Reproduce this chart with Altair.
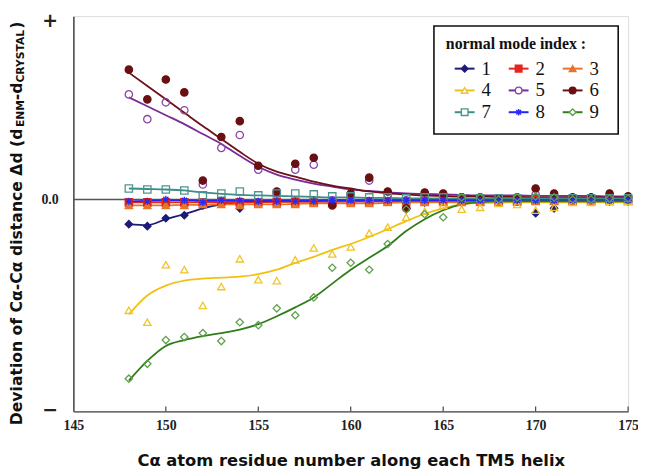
import altair as alt
import pandas as pd

# ---------------- data ----------------
residues = list(range(148, 176))
modes = ["1", "2", "3", "4", "5", "6", "7", "8", "9"]

points_1 = [-0.25, -0.27, -0.19, -0.16, -0.06, -0.04, -0.09, -0.03, -0.02, -0.02, -0.02, -0.04, -0.02, -0.02,
            -0.02, -0.09, -0.03, -0.02, -0.02, -0.02, -0.02, -0.02, -0.14, -0.09, -0.02, -0.02, -0.02, -0.02]
points_2 = [-0.03, -0.03, -0.03, -0.03, -0.03, -0.02, -0.03, -0.03, -0.03, -0.03, -0.03, -0.03, -0.02, -0.02,
            -0.02, -0.02, -0.02, -0.02, -0.02, -0.02, -0.02, -0.02, -0.01, -0.01, -0.01, -0.01, -0.01, -0.01]
points_3 = [-0.06, -0.06, -0.06, -0.06, -0.05, -0.05, -0.06, -0.05, -0.05, -0.05, -0.04, -0.04, -0.04, -0.04,
            -0.03, -0.03, -0.03, -0.03, -0.03, -0.03, -0.03, -0.02, -0.02, -0.02, -0.02, -0.02, -0.02, -0.02]
points_4 = [-1.12, -1.24, -0.66, -0.71, -1.07, -0.88, -0.60, -0.81, -0.82, -0.61, -0.49, -0.55, -0.48, -0.34,
            -0.28, -0.18, -0.12, -0.06, -0.10, -0.08, -0.04, -0.05, -0.11, -0.08, -0.03, -0.03, -0.02, -0.02]
points_5 = [1.06, 0.81, 0.98, 0.90, 0.15, 0.52, 0.65, 0.30, 0.06, 0.30, 0.35, -0.01, 0.04, 0.19,
            0.05, -0.01, 0.05, 0.04, 0.02, 0.01, 0.01, 0.01, 0.05, 0.03, 0.01, 0.01, 0.03, 0.02]
points_6 = [1.31, 1.01, 1.21, 1.08, 0.19, 0.63, 0.79, 0.34, 0.08, 0.36, 0.42, -0.06, 0.06, 0.22,
            0.08, -0.09, 0.07, 0.06, 0.02, 0.02, 0.01, 0.02, 0.11, 0.06, 0.02, 0.02, 0.06, 0.03]
points_7 = [0.11, 0.10, 0.10, 0.09, 0.04, 0.06, 0.08, 0.04, 0.06, 0.06, 0.05, 0.03, 0.03, 0.02,
            0.02, 0.01, 0.02, 0.02, 0.01, 0.01, 0.01, 0.01, 0.01, 0.01, 0.01, 0.01, 0.01, 0.01]
points_8 = [-0.02, -0.02, 0.0, -0.01, -0.03, -0.01, -0.01, -0.02, -0.02, -0.02, -0.02, -0.01, -0.01, -0.01,
            -0.01, -0.01, -0.01, -0.01, -0.01, -0.01, -0.01, -0.01, -0.01, -0.01, -0.01, -0.01, -0.01, -0.01]
points_9 = [-1.81, -1.66, -1.42, -1.39, -1.35, -1.43, -1.24, -1.27, -1.10, -1.17, -0.99, -0.69, -0.64, -0.71,
            -0.45, -0.10, -0.15, -0.18, 0.02, 0.02, 0.0, 0.02, 0.03, 0.02, 0.0, 0.0, 0.01, 0.01]

fit_1 = [-0.25, -0.26, -0.20, -0.15, -0.09, -0.05, -0.03, -0.02, -0.02, -0.02, -0.02, -0.02, -0.02, -0.02,
         -0.02, -0.02, -0.02, -0.02, -0.02, -0.02, -0.02, -0.02, -0.02, -0.02, -0.02, -0.02, -0.01, -0.01]
fit_2 = [-0.03, -0.03, -0.03, -0.03, -0.03, -0.03, -0.03, -0.03, -0.025, -0.025, -0.025, -0.025, -0.02, -0.02,
         -0.02, -0.02, -0.02, -0.02, -0.02, -0.02, -0.02, -0.015, -0.015, -0.01, -0.01, -0.01, -0.01, -0.01]
fit_3 = [-0.06, -0.06, -0.06, -0.055, -0.055, -0.05, -0.05, -0.05, -0.05, -0.045, -0.04, -0.04, -0.04, -0.04,
         -0.035, -0.03, -0.03, -0.03, -0.03, -0.03, -0.03, -0.025, -0.02, -0.02, -0.02, -0.02, -0.02, -0.02]
fit_4 = [-1.16, -0.97, -0.87, -0.82, -0.80, -0.79, -0.78, -0.755, -0.71, -0.64, -0.58, -0.51, -0.45, -0.38,
         -0.30, -0.22, -0.145, -0.09, -0.05, -0.035, -0.03, -0.03, -0.03, -0.03, -0.03, -0.03, -0.03, -0.03]
fit_5 = [1.03, 0.94, 0.85, 0.76, 0.66, 0.56, 0.44, 0.33, 0.25, 0.20, 0.16, 0.13, 0.10, 0.085,
         0.07, 0.06, 0.055, 0.05, 0.045, 0.04, 0.04, 0.04, 0.035, 0.035, 0.035, 0.035, 0.03, 0.03]
fit_6 = [1.28, 1.145, 1.01, 0.875, 0.74, 0.61, 0.48, 0.36, 0.28, 0.23, 0.18, 0.14, 0.11, 0.08,
         0.06, 0.05, 0.04, 0.035, 0.03, 0.03, 0.025, 0.025, 0.02, 0.02, 0.02, 0.02, 0.02, 0.02]
fit_7 = [0.11, 0.105, 0.10, 0.09, 0.07, 0.055, 0.045, 0.04, 0.035, 0.03, 0.025, 0.02, 0.02, 0.015,
         0.015, 0.01, 0.01, 0.01, 0.01, 0.01, 0.01, 0.01, 0.01, 0.01, 0.01, 0.01, 0.01, 0.01]
fit_8 = [-0.02, -0.015, -0.01, -0.01, -0.015, -0.015, -0.015, -0.015, -0.015, -0.015, -0.015, -0.01, -0.01, -0.01,
         -0.01, -0.01, -0.01, -0.01, -0.01, -0.01, -0.01, -0.01, -0.01, -0.01, -0.01, -0.01, -0.01, -0.01]
fit_9 = [-1.83, -1.63, -1.48, -1.42, -1.38, -1.35, -1.315, -1.26, -1.18, -1.09, -0.99, -0.85, -0.71, -0.59,
         -0.47, -0.32, -0.20, -0.11, -0.05, -0.03, -0.02, -0.02, -0.02, -0.02, -0.02, -0.02, -0.02, -0.02]

x_ticks = [145, 150, 155, 160, 165, 170, 175]
y_tick_values = [1.81, 0, -2.12]

# ---------------- styles ----------------
line_colors = ["#1d1a78", "#e3261c", "#e8732a", "#f2c10f", "#7a2a94", "#6d1018", "#3d8c87", "#2323f5", "#2e7d18"]
point_colors = ["#1d1a78", "#e3261c", "#e8732a", "#f0c42a", "#8a44ab", "#6a0f12", "#4d9590", "#2a2af0", "#5fa04a"]
point_fills = ["#1d1a78", "#e3261c", "#e8732a", "transparent", "transparent", "#6a0f12", "transparent",
               "#2a2af0", "transparent"]
asterisk = "M-1,0L1,0M0,-1L0,1M-0.7,-0.7L0.7,0.7M-0.7,0.7L0.7,-0.7"
shapes = ["diamond", "square", "triangle-up", "triangle-up", "circle", "circle", "square", asterisk, "diamond"]

point_series = [points_1, points_2, points_3, points_4, points_5, points_6, points_7, points_8, points_9]
fit_series = [fit_1, fit_2, fit_3, fit_4, fit_5, fit_6, fit_7, fit_8, fit_9]

rows = []
for m, pts, fit in zip(modes, point_series, fit_series):
    for r, p, f in zip(residues, pts, fit):
        rows.append({"residue": r, "mode": m, "value": p, "fit": f})
df = pd.DataFrame(rows)

W, H = 560, 399
X_DOM = [145, 175]
Y_DOM = [-2.14, 1.85]
PX_PER_X = W / (X_DOM[1] - X_DOM[0])
PX_PER_Y = H / (Y_DOM[1] - Y_DOM[0])

x_scale = alt.Scale(domain=X_DOM, nice=False, zero=False)
y_scale = alt.Scale(domain=Y_DOM, nice=False, zero=False)

x_axis = alt.Axis(values=x_ticks, title="C\u03b1 atom residue number along each TM5 helix",
                  titleFont="DejaVu Sans", titleFontSize=16.5, titleFontWeight="bold", titleColor="#111",
                  titlePadding=21, labelFont="Liberation Serif", labelFontSize=14, labelFontWeight="bold",
                  labelColor="#222", labelPadding=7, labelFlush=False, tickSize=0, grid=False,
                  domainColor="#444", domainWidth=1.5, format="d")
y_axis = alt.Axis(values=y_tick_values, title="", grid=False, tickSize=0, domainColor="#444", domainWidth=1.5,
                  labelExpr="datum.value == 0 ? '0.0' : (datum.value > 0 ? '+' : '\u2212')",
                  labelAlign="center", labelBaseline="middle", labelPadding=24, labelColor="#222",
                  labelFontWeight="bold",
                  labelFont={"condition": {"test": "datum.value == 0", "value": "Liberation Serif"},
                             "value": "DejaVu Sans"},
                  labelFontSize={"condition": {"test": "datum.value == 0", "value": 14}, "value": 19})

color_scale = alt.Scale(domain=modes, range=line_colors)
stroke_scale = alt.Scale(domain=modes, range=point_colors)
fill_scale = alt.Scale(domain=modes, range=point_fills)
shape_scale = alt.Scale(domain=modes, range=shapes)

X = alt.X("residue:Q", scale=x_scale, axis=x_axis)

zero_line = alt.Chart(pd.DataFrame({"y": [0]})).mark_rule(color="#555", strokeWidth=1.5).encode(
    y=alt.Y("y:Q", scale=y_scale, axis=y_axis))

tick_rules = alt.Chart(pd.DataFrame({"residue": x_ticks[1:]})).mark_rule(color="#444", strokeWidth=1.2).encode(
    x=X, y=alt.value(H), y2=alt.value(H - 5))

lines = alt.Chart(df).mark_line(strokeWidth=1.8, interpolate="monotone").encode(
    x=X,
    y=alt.Y("fit:Q", scale=y_scale, axis=y_axis),
    color=alt.Color("mode:N", scale=color_scale, legend=None),
    detail="mode:N",
)

points = alt.Chart(df).mark_point(size=55, strokeWidth=1.3, opacity=1).encode(
    x=X,
    y=alt.Y("value:Q", scale=y_scale, axis=y_axis),
    stroke=alt.Stroke("mode:N", scale=stroke_scale, legend=None),
    fill=alt.Fill("mode:N", scale=fill_scale, legend=None),
    shape=alt.Shape("mode:N", scale=shape_scale, legend=None),
)

# ---------------- y-axis title with subscripts ----------------
def title_piece(text, x, y, size):
    return alt.Chart(pd.DataFrame({"t": [text]})).mark_text(
        angle=270, align="left", baseline="middle", font="DejaVu Sans", fontWeight="bold",
        fontSize=size, color="#111").encode(x=alt.value(x), y=alt.value(y), text="t:N")

ytitle = [
    title_piece("Deviation of C\u03b1-C\u03b1 distance \u0394d (d", -57, 413, 15.8),
    title_piece("ENM", -53, 112, 10.8),
    title_piece("-d", -57, 85, 15.8),
    title_piece("CRYSTAL", -53, 67, 10.8),
    title_piece(")", -57, 12.7, 15.8),
]

# ---------------- legend (drawn inside the plot) ----------------
LEG_X0, LEG_Y0, LEG_DX, LEG_DY = 395, 53, 54.5, 22
legend_base = alt.Chart(pd.DataFrame({"mode": modes})).transform_calculate(
    idx="toNumber(datum.mode) - 1"
).transform_calculate(
    px=f"{LEG_X0} + (datum.idx % 3) * {LEG_DX}",
    py=f"{LEG_Y0} + floor(datum.idx / 3) * {LEG_DY}",
).transform_calculate(
    lx=f"{X_DOM[0]} + datum.px / {PX_PER_X}",
    lx1=f"{X_DOM[0]} + (datum.px - 10) / {PX_PER_X}",
    lx2=f"{X_DOM[0]} + (datum.px + 10) / {PX_PER_X}",
    ltx=f"{X_DOM[0]} + (datum.px + 17) / {PX_PER_X}",
    ly=f"{Y_DOM[1]} - datum.py / {PX_PER_Y}",
)

legend_box = alt.Chart(pd.DataFrame({"a": [0]})).mark_rect(
    fill="white", stroke="#111", strokeWidth=1.6).encode(
    x=alt.value(364), x2=alt.value(550), y=alt.value(10), y2=alt.value(119))
legend_title = alt.Chart(pd.DataFrame({"t": ["normal mode index :"]})).mark_text(
    align="left", baseline="alphabetic", font="Liberation Serif", fontWeight="bold", fontSize=16,
    color="#111").encode(x=alt.value(376), y=alt.value(33), text="t:N")
legend_lines = legend_base.mark_rule(strokeWidth=2).encode(
    x=alt.X("lx1:Q", scale=x_scale, axis=x_axis), x2="lx2:Q",
    y=alt.Y("ly:Q", scale=y_scale, axis=y_axis),
    color=alt.Color("mode:N", scale=color_scale, legend=None))
legend_points = legend_base.mark_point(size=45, strokeWidth=1.4, opacity=1).encode(
    x=alt.X("lx:Q", scale=x_scale, axis=x_axis),
    y=alt.Y("ly:Q", scale=y_scale, axis=y_axis),
    stroke=alt.Stroke("mode:N", scale=stroke_scale, legend=None),
    fill=alt.Fill("mode:N", scale=alt.Scale(domain=modes, range=[c if c != "transparent" else "white" for c in point_fills]), legend=None),
    shape=alt.Shape("mode:N", scale=shape_scale, legend=None))
legend_labels = legend_base.mark_text(
    align="left", baseline="middle", font="Liberation Serif", fontSize=19, color="#111").encode(
    x=alt.X("ltx:Q", scale=x_scale, axis=x_axis),
    y=alt.Y("ly:Q", scale=y_scale, axis=y_axis),
    text="mode:N")

chart = alt.layer(
    zero_line, tick_rules, lines, points, *ytitle,
    legend_box, legend_title, legend_lines, legend_points, legend_labels,
).resolve_scale(fill="independent").properties(
    width=W, height=H,
    autosize=alt.AutoSizeParams(type="none"),
    padding={"left": 66, "top": 6, "right": 10, "bottom": 60},
).configure_view(stroke=None).configure(background="white")

chart.save("out.html", embed_options={"renderer": "svg", "actions": False})
